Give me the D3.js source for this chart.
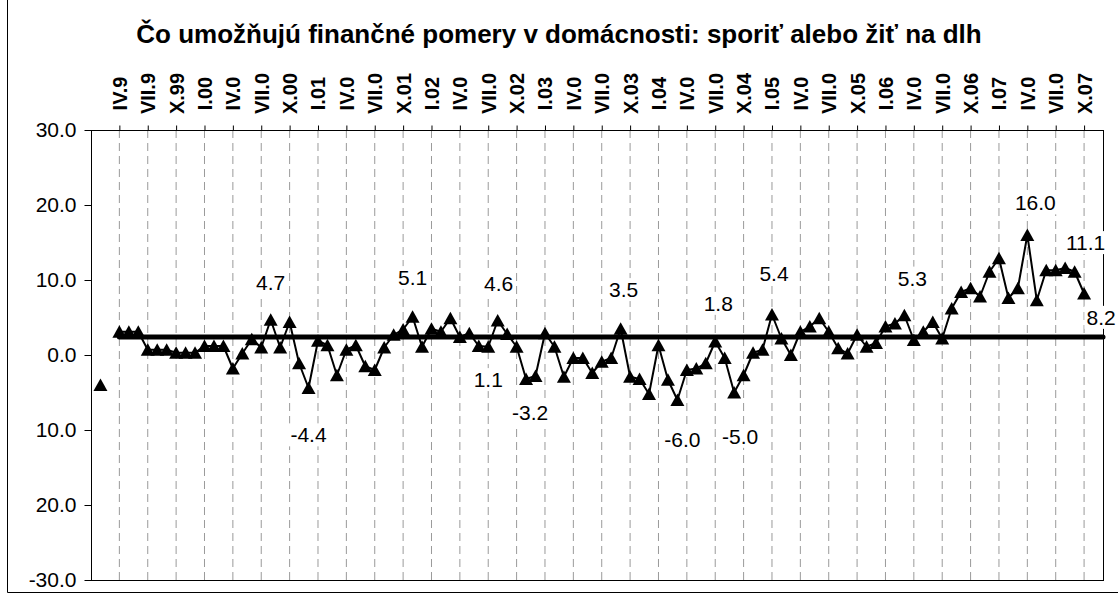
<!DOCTYPE html>
<html>
<head>
<meta charset="utf-8">
<script src="https://cdnjs.cloudflare.com/ajax/libs/d3/7.8.5/d3.min.js"></script>
<style>
  body { margin: 0; background: #fff; }
  text { font-family: Arial, "Liberation Sans", sans-serif; }
</style>
</head>
<body>
<svg id="chart" width="1118" height="595"></svg>
<script>
// categories: one per month, Jan 1999 .. Dec 2007
const romans = ['I', 'II', 'III', 'IV', 'V', 'VI', 'VII', 'VIII', 'IX', 'X', 'XI', 'XII'];
const years = ['99', '00', '01', '02', '03', '04', '05', '06', '07'];
const months = years.flatMap(y => romans.map(r => `${r}.${y}`));

// labelled quarters (Excel cut the long ones short)
const tickMonths = ['IV.99', 'VII.99', 'X.99', 'I.00', 'IV.00', 'VII.00', 'X.00', 'I.01', 'IV.01', 'VII.01',
  'X.01', 'I.02', 'IV.02', 'VII.02', 'X.02', 'I.03', 'IV.03', 'VII.03', 'X.03', 'I.04', 'IV.04', 'VII.04',
  'X.04', 'I.05', 'IV.05', 'VII.05', 'X.05', 'I.06', 'IV.06', 'VII.06', 'X.06', 'I.07', 'IV.07', 'VII.07', 'X.07'];
const tickLabels = ['IV.9', 'VII.9', 'X.99', 'I.00', 'IV.0', 'VII.0', 'X.00', 'I.01', 'IV.0', 'VII.0',
  'X.01', 'I.02', 'IV.0', 'VII.0', 'X.02', 'I.03', 'IV.0', 'VII.0', 'X.03', 'I.04', 'IV.0', 'VII.0',
  'X.04', 'I.05', 'IV.0', 'VII.0', 'X.05', 'I.06', 'IV.0', 'VII.0', 'X.06', 'I.07', 'IV.0', 'VII.0', 'X.07'];

// balance: save vs. live on debt
const balance = [
  null, -4.0, null, 3.1, 3.1, 3.1, 0.7, 0.7, 0.7, 0.3, 0.3, 0.3,
  1.2, 1.2, 1.2, -1.8, 0.2, 2.1, 1.0, 4.7, 1.0, 4.4, -1.1, -4.4,
  1.9, 1.3, -2.7, 0.7, 1.3, -1.5, -2.0, 1.0, 2.7, 3.4, 5.1, 1.1,
  3.5, 3.1, 4.9, 2.4, 2.9, 1.2, 1.1, 4.6, 2.8, 1.1, -3.2, -2.8,
  2.9, 1.1, -2.9, -0.4, -0.4, -2.4, -0.9, -0.4, 3.5, -2.9, -3.2, -5.2,
  1.3, -3.3, -6.0, -2.0, -1.8, -1.1, 1.8, -0.4, -5.0, -2.7, 0.3, 0.7,
  5.4, 2.2, 0.0, 3.1, 3.8, 4.9, 3.1, 0.9, 0.2, 2.7, 1.1, 1.6,
  3.8, 4.2, 5.3, 2.0, 3.1, 4.4, 2.2, 6.2, 8.4, 8.9, 7.8, 11.1,
  12.9, 7.6, 8.9, 16.0, 7.3, 11.3, 11.3, 11.6, 11.1, 8.2, null, null
];

// long-run average, drawn from IV.99 to the end
const avgValue = 2.4;
const avgFrom = 'IV.99';
const avgTo = 'XII.07';

// points that carry a data label
const labelledMonths = ['VIII.00', 'XII.00', 'XI.01', 'VII.02', 'VIII.02', 'XI.02', 'IX.03', 'III.04',
  'VII.04', 'IX.04', 'I.05', 'III.06', 'IV.07', 'IX.07', 'X.07'];

const yTicks = [-30, -20, -10, 0, 10, 20, 30];
const yTickLabels = ['-30.0', '20.0', '10.0', '0.0', '10.0', '20.0', '30.0'];

const title = 'Čo umožňujú finančné pomery v domácnosti: sporiť alebo žiť na dlh';

// ---- layout
const W = 1118, H = 595;
const plot = { left: 91, right: 1103, top: 130, bottom: 580 };
// hand nudges for the data labels (Excel placed them by hand)
const labelNudge = [[0, -37], [0, 47], [0, -39], [0, 33], [1, -37], [4, 34], [3, -39], [5, 40],
  [3, -38], [6, 44], [2, -41], [8, -37], [8, -32], [11, -29], [17, 24]];

const svg = d3.select('#chart');
svg.selectAll('*').remove();

svg.append('rect').attr('width', W).attr('height', H).attr('fill', '#fff');

// chart frame
svg.append('path')
  .attr('d', `M7.5,0 V592.5 H${W}`)
  .attr('fill', 'none')
  .attr('stroke', '#000')
  .attr('stroke-width', 1);

const x = d3.scalePoint()
  .domain(months)
  .range([plot.left, plot.right]);

const y = d3.scaleLinear()
  .domain([-30, 30])
  .range([plot.bottom, plot.top]);

// title
svg.append('text')
  .attr('x', 559)
  .attr('y', 43)
  .attr('text-anchor', 'middle')
  .style('font-size', '26px')
  .style('font-weight', 'bold')
  .text(title);

// dashed quarter gridlines
svg.append('g')
  .selectAll('line')
  .data(tickMonths)
  .join('line')
  .attr('x1', d => x(d))
  .attr('x2', d => x(d))
  .attr('y1', plot.top)
  .attr('y2', plot.bottom)
  .attr('stroke', '#9a9a9a')
  .attr('stroke-width', 1)
  .attr('stroke-dasharray', '8,5');

// plot border
svg.append('rect')
  .attr('x', plot.left + 0.5)
  .attr('y', plot.top + 0.5)
  .attr('width', plot.right - plot.left)
  .attr('height', plot.bottom - plot.top)
  .attr('fill', 'none')
  .attr('stroke', '#000')
  .attr('stroke-width', 1);

// y axis
const yAxis = svg.append('g')
  .attr('transform', `translate(${plot.left + 0.5},0)`)
  .call(d3.axisLeft(y)
    .tickValues(yTicks)
    .tickFormat((d, i) => yTickLabels[i])
    .tickSize(7)
    .tickPadding(8));
yAxis.select('.domain').remove();
yAxis.selectAll('line').attr('stroke', '#000');
yAxis.selectAll('text')
  .attr('fill', '#000')
  .style('font-size', '21px')
  .style('font-family', 'Arial, "Liberation Sans", sans-serif');

// category axis on top
const xAxis = svg.append('g')
  .attr('transform', `translate(0,${plot.top + 0.5})`)
  .call(d3.axisTop(x)
    .tickValues(tickMonths)
    .tickFormat((d, i) => tickLabels[i])
    .tickSize(5));
xAxis.select('.domain').remove();
xAxis.selectAll('line').attr('stroke', '#000');
xAxis.selectAll('text')
  .attr('fill', '#000')
  .attr('transform', 'rotate(-90)')
  .attr('text-anchor', 'middle')
  .attr('x', 37)
  .attr('y', 0)
  .attr('dy', '0.35em')
  .style('font-size', '20px')
  .style('font-weight', 'bold')
  .style('font-family', 'Arial, "Liberation Sans", sans-serif');

// average line
svg.append('line')
  .attr('x1', x(avgFrom))
  .attr('x2', x(avgTo))
  .attr('y1', y(avgValue))
  .attr('y2', y(avgValue))
  .attr('stroke', '#000')
  .attr('stroke-width', 5)
  .attr('stroke-linecap', 'round');

// series
const points = months.map((m, i) => ({ m, v: balance[i] }));

const line = d3.line()
  .defined(d => d.v !== null)
  .x(d => x(d.m))
  .y(d => y(d.v));

svg.append('path')
  .datum(points)
  .attr('d', line)
  .attr('fill', 'none')
  .attr('stroke', '#000')
  .attr('stroke-width', 2)
  .attr('stroke-linejoin', 'round');

const tri = 'M0,-6.5L7,6L-7,6Z';
svg.append('g')
  .selectAll('path')
  .data(points.filter(d => d.v !== null))
  .join('path')
  .attr('d', tri)
  .attr('transform', d => `translate(${x(d.m)},${y(d.v)})`)
  .attr('fill', '#000');

// data labels with white backing
const labels = svg.append('g')
  .selectAll('g')
  .data(labelledMonths)
  .join('g')
  .attr('transform', (m, i) => {
    const v = balance[months.indexOf(m)];
    return `translate(${x(m) + labelNudge[i][0]},${y(v) + labelNudge[i][1]})`;
  });

labels.append('text')
  .attr('text-anchor', 'middle')
  .attr('dy', '0.35em')
  .style('font-size', '21px')
  .text(m => balance[months.indexOf(m)].toFixed(1));

labels.each(function () {
  const g = d3.select(this);
  const bb = g.select('text').node().getBBox();
  g.insert('rect', 'text')
    .attr('x', bb.x - 2)
    .attr('y', bb.y)
    .attr('width', bb.width + 4)
    .attr('height', bb.height)
    .attr('fill', '#fff');
});
</script>
</body>
</html>
